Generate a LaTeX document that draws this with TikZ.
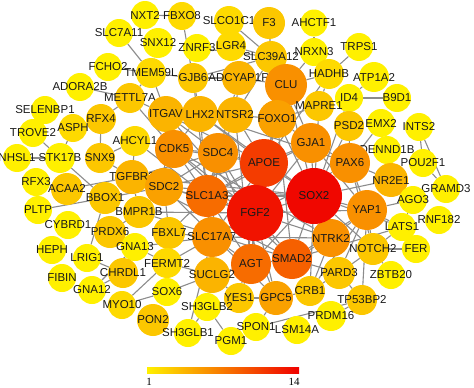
\documentclass[tikz,border=0pt]{standalone}
\usepackage{fontspec}
\setmainfont{Liberation Sans}
\newfontfamily\barfont{Liberation Serif}
\usetikzlibrary{backgrounds}

\definecolor{ylo}{HTML}{FFF000}
\definecolor{rhi}{HTML}{F00000}
\definecolor{linkgray}{HTML}{8C8C8C}
\colorlet{c1}{ylo}
\colorlet{c2}{rhi!9!ylo}
\colorlet{c3}{rhi!17!ylo}
\colorlet{c4}{rhi!25!ylo}
\colorlet{c5}{rhi!33!ylo}
\colorlet{c6}{rhi!40!ylo}
\colorlet{c8}{rhi!55!ylo}
\colorlet{c9}{rhi!60!ylo}
\colorlet{c11}{rhi!75!ylo}
\colorlet{c13}{rhi!92!ylo}
\colorlet{c14}{rhi!97!ylo}

% label text does not widen the circle
\newcommand{\glabel}[1]{\makebox[0pt]{#1}}

\tikzset{
  gene/.style={circle, inner sep=0pt, text=black!90, font=\fontsize{11.5}{11.5}\selectfont},
  ppi/.style={every edge/.style={draw=linkgray, line width=1.1pt}},
  barlabel/.style={inner sep=0pt, font=\barfont\fontsize{11}{11}\selectfont}
}

\begin{document}
\begin{tikzpicture}[x=1pt,y=-1pt]
  \useasboundingbox (0,0) rectangle (474,388);

  \node[gene, minimum size=28, fill=c1] (NXT2) at (145,15) {\glabel{NXT2}};
  \node[gene, minimum size=28, fill=c2] (FBXO8) at (182,16) {\glabel{FBXO8}};
  \node[gene, minimum size=30, fill=c2] (SLCO1C1) at (229,21) {\glabel{SLCO1C1}};
  \node[gene, minimum size=32, fill=c3] (F3) at (269,23) {\glabel{F3}};
  \node[gene, minimum size=27, fill=c1] (AHCTF1) at (314,23) {\glabel{AHCTF1}};
  \node[gene, minimum size=28, fill=c1] (SLC7A11) at (119,33) {\glabel{SLC7A11}};
  \node[gene, minimum size=30, fill=c1] (SNX12) at (158,43) {\glabel{SNX12}};
  \node[gene, minimum size=28, fill=c1] (ZNRF3) at (197,48) {\glabel{ZNRF3}};
  \node[gene, minimum size=30, fill=c2] (LGR4) at (231,46) {\glabel{LGR4}};
  \node[gene, minimum size=32, fill=c3] (SLC39A12) at (271,57) {\glabel{SLC39A12}};
  \node[gene, minimum size=28, fill=c1] (NRXN3) at (314,52) {\glabel{NRXN3}};
  \node[gene, minimum size=28, fill=c1] (TRPS1) at (359,47) {\glabel{TRPS1}};
  \node[gene, minimum size=28, fill=c1] (FCHO2) at (108,67) {\glabel{FCHO2}};
  \node[gene, minimum size=30, fill=c2] (TMEM59L) at (151,73) {\glabel{TMEM59L}};
  \node[gene, minimum size=30, fill=c3] (GJB6) at (193,78) {\glabel{GJB6}};
  \node[gene, minimum size=34, fill=c4] (ADCYAP1R) at (239,78) {\glabel{ADCYAP1R}};
  \node[gene, minimum size=42, fill=c6] (CLU) at (286,85) {\glabel{CLU}};
  \node[gene, minimum size=30, fill=c2] (HADHB) at (329,74) {\glabel{HADHB}};
  \node[gene, minimum size=30, fill=c1] (ATP1A2) at (374,77) {\glabel{ATP1A2}};
  \node[gene, minimum size=28, fill=c1] (ADORA2B) at (80,87) {\glabel{ADORA2B}};
  \node[gene, minimum size=30, fill=c3] (METTL7A) at (130,98) {\glabel{METTL7A}};
  \node[gene, minimum size=28, fill=c1] (ID4) at (349,98) {\glabel{ID4}};
  \node[gene, minimum size=28, fill=c1] (B9D1) at (397,98) {\glabel{B9D1}};
  \node[gene, minimum size=30, fill=c3] (MAPRE1) at (319,106) {\glabel{MAPRE1}};
  \node[gene, minimum size=28, fill=c1] (SELENBP1) at (45,110) {\glabel{SELENBP1}};
  \node[gene, minimum size=30, fill=c3] (RFX4) at (101,119) {\glabel{RFX4}};
  \node[gene, minimum size=36, fill=c4] (ITGAV) at (166,114) {\glabel{ITGAV}};
  \node[gene, minimum size=36, fill=c4] (LHX2) at (200,114) {\glabel{LHX2}};
  \node[gene, minimum size=36, fill=c4] (NTSR2) at (235,115) {\glabel{NTSR2}};
  \node[gene, minimum size=38, fill=c5] (FOXO1) at (277,119) {\glabel{FOXO1}};
  \node[gene, minimum size=30, fill=c3] (PSD2) at (349,126) {\glabel{PSD2}};
  \node[gene, minimum size=28, fill=c1] (EMX2) at (381,123) {\glabel{EMX2}};
  \node[gene, minimum size=28, fill=c1] (INTS2) at (419,127) {\glabel{INTS2}};
  \node[gene, minimum size=28, fill=c1] (TROVE2) at (33,133) {\glabel{TROVE2}};
  \node[gene, minimum size=28, fill=c2] (ASPH) at (73,128) {\glabel{ASPH}};
  \node[gene, minimum size=30, fill=c2] (AHCYL1) at (135,141) {\glabel{AHCYL1}};
  \node[gene, minimum size=38, fill=c6] (CDK5) at (174,149) {\glabel{CDK5}};
  \node[gene, minimum size=40, fill=c6] (SDC4) at (218,153) {\glabel{SDC4}};
  \node[gene, minimum size=40, fill=c6] (GJA1) at (311,143) {\glabel{GJA1}};
  \node[gene, minimum size=48, fill=c11] (APOE) at (264,163) {\glabel{APOE}};
  \node[gene, minimum size=28, fill=c1] (DENND1B) at (387,150) {\glabel{DENND1B}};
  \node[gene, minimum size=28, fill=c1] (NHSL1) at (17,158) {\glabel{NHSL1}};
  \node[gene, minimum size=30, fill=c1] (STK17B) at (60,158) {\glabel{STK17B}};
  \node[gene, minimum size=30, fill=c3] (SNX9) at (100,158) {\glabel{SNX9}};
  \node[gene, minimum size=40, fill=c6] (PAX6) at (350,163) {\glabel{PAX6}};
  \node[gene, minimum size=28, fill=c1] (POU2F1) at (423,163) {\glabel{POU2F1}};
  \node[gene, minimum size=34, fill=c4] (TGFBR3) at (132,177) {\glabel{TGFBR3}};
  \node[gene, minimum size=28, fill=c1] (RFX3) at (36,182) {\glabel{RFX3}};
  \node[gene, minimum size=34, fill=c4] (NR2E1) at (391,180) {\glabel{NR2E1}};
  \node[gene, minimum size=32, fill=c3] (ACAA2) at (67,189) {\glabel{ACAA2}};
  \node[gene, minimum size=38, fill=c5] (SDC2) at (164,187) {\glabel{SDC2}};
  \node[gene, minimum size=42, fill=c8] (SLC1A3) at (207,196) {\glabel{SLC1A3}};
  \node[gene, minimum size=28, fill=c1] (GRAMD3) at (446,189) {\glabel{GRAMD3}};
  \node[gene, minimum size=32, fill=c3] (BBOX1) at (105,198) {\glabel{BBOX1}};
  \node[gene, minimum size=28, fill=c1] (AGO3) at (413,200) {\glabel{AGO3}};
  \node[gene, minimum size=28, fill=c1] (PLTP) at (38,210) {\glabel{PLTP}};
  \node[gene, minimum size=40, fill=c6] (YAP1) at (367,210) {\glabel{YAP1}};
  \node[gene, minimum size=32, fill=c3] (BMPR1B) at (139,212) {\glabel{BMPR1B}};
  \node[gene, minimum size=28, fill=c1] (RNF182) at (439,220) {\glabel{RNF182}};
  \node[gene, minimum size=28, fill=c1] (CYBRD1) at (68,225) {\glabel{CYBRD1}};
  \node[gene, minimum size=32, fill=c3] (PRDX6) at (110,232) {\glabel{PRDX6}};
  \node[gene, minimum size=32, fill=c3] (FBXL7) at (169,233) {\glabel{FBXL7}};
  \node[gene, minimum size=40, fill=c6] (SLC17A7) at (212,237) {\glabel{SLC17A7}};
  \node[gene, minimum size=38, fill=c6] (NTRK2) at (331,238) {\glabel{NTRK2}};
  \node[gene, minimum size=28, fill=c1] (LATS1) at (402,227) {\glabel{LATS1}};
  \node[gene, minimum size=56, fill=c14] (SOX2) at (314,196) {\glabel{SOX2}};
  \node[gene, minimum size=56, fill=c13] (FGF2) at (255,213) {\glabel{FGF2}};
  \node[gene, minimum size=28, fill=c1] (GNA13) at (135,247) {\glabel{GNA13}};
  \node[gene, minimum size=28, fill=c1] (HEPH) at (52,250) {\glabel{HEPH}};
  \node[gene, minimum size=32, fill=c3] (NOTCH2) at (373,249) {\glabel{NOTCH2}};
  \node[gene, minimum size=28, fill=c1] (FER) at (416,249) {\glabel{FER}};
  \node[gene, minimum size=28, fill=c1] (LRIG1) at (87,258) {\glabel{LRIG1}};
  \node[gene, minimum size=30, fill=c2] (FERMT2) at (167,263) {\glabel{FERMT2}};
  \node[gene, minimum size=40, fill=c8] (AGT) at (251,264) {\glabel{AGT}};
  \node[gene, minimum size=40, fill=c9] (SMAD2) at (292,259) {\glabel{SMAD2}};
  \node[gene, minimum size=30, fill=c3] (CHRDL1) at (123,273) {\glabel{CHRDL1}};
  \node[gene, minimum size=36, fill=c4] (SUCLG2) at (212,275) {\glabel{SUCLG2}};
  \node[gene, minimum size=32, fill=c3] (PARD3) at (339,273) {\glabel{PARD3}};
  \node[gene, minimum size=28, fill=c1] (ZBTB20) at (391,275) {\glabel{ZBTB20}};
  \node[gene, minimum size=28, fill=c1] (FIBIN) at (62,278) {\glabel{FIBIN}};
  \node[gene, minimum size=28, fill=c1] (GNA12) at (92,290) {\glabel{GNA12}};
  \node[gene, minimum size=28, fill=c1] (SOX6) at (167,292) {\glabel{SOX6}};
  \node[gene, minimum size=30, fill=c3] (CRB1) at (310,291) {\glabel{CRB1}};
  \node[gene, minimum size=30, fill=c3] (YES1) at (239,298) {\glabel{YES1}};
  \node[gene, minimum size=34, fill=c5] (GPC5) at (276,298) {\glabel{GPC5}};
  \node[gene, minimum size=30, fill=c3] (TP53BP2) at (362,300) {\glabel{TP53BP2}};
  \node[gene, minimum size=28, fill=c2] (MYO10) at (122,305) {\glabel{MYO10}};
  \node[gene, minimum size=28, fill=c1] (SH3GLB2) at (207,307) {\glabel{SH3GLB2}};
  \node[gene, minimum size=32, fill=c3] (PON2) at (153,320) {\glabel{PON2}};
  \node[gene, minimum size=30, fill=c1] (PRDM16) at (331,316) {\glabel{PRDM16}};
  \node[gene, minimum size=28, fill=c1] (SPON1) at (256,327) {\glabel{SPON1}};
  \node[gene, minimum size=28, fill=c1] (LSM14A) at (297,330) {\glabel{LSM14A}};
  \node[gene, minimum size=28, fill=c1] (SH3GLB1) at (188,333) {\glabel{SH3GLB1}};
  \node[gene, minimum size=28, fill=c1] (PGM1) at (231,341) {\glabel{PGM1}};

  % interactions
  \begin{scope}[on background layer, ppi]
  \path (FGF2) edge (SOX2) edge (APOE) edge (SLC1A3) edge (AGT) edge (SMAD2) edge (SDC4) edge (SDC2) edge (CDK5) edge (GJA1) edge (NTRK2) edge (YAP1) edge (PAX6) edge (FOXO1) edge (SLC17A7) edge (TGFBR3) edge (BMPR1B) edge (ITGAV) edge (GPC5) edge (YES1) edge (FERMT2);
  \path (SOX2) edge (APOE) edge (PAX6) edge (YAP1) edge (NTRK2) edge (SMAD2) edge (NR2E1) edge (GJA1) edge (FOXO1) edge (LHX2) edge (NOTCH2) edge (SLC1A3) edge (AGT) edge (SDC2) edge (CLU) edge (TGFBR3) edge (LATS1) edge (PARD3) edge (CRB1) edge (MAPRE1) edge (ID4) edge (PSD2);
  \path (APOE) edge (CLU) edge (SLC1A3) edge (AGT) edge (SDC4) edge (SDC2) edge (CDK5) edge (NTSR2) edge (FOXO1) edge (GJA1) edge (SLC17A7) edge (ITGAV) edge (LHX2) edge (HADHB);
  \path (SLC1A3) edge (SLC17A7) edge (GJA1) edge (CDK5) edge (SDC4) edge (AGT) edge (LHX2) edge (NTSR2) edge (SUCLG2) edge (GJB6) edge (ADCYAP1R) edge (AHCYL1) edge (FBXL7);
  \path (SMAD2) edge (AGT) edge (YAP1) edge (NTRK2) edge (TGFBR3) edge (BMPR1B) edge (FOXO1) edge (CDK5) edge (PARD3) edge (LATS1);
  \path (AGT) edge (SLC17A7) edge (SUCLG2) edge (NTSR2) edge (YES1);
  \path (CDK5) edge (SDC4) edge (ITGAV) edge (NTRK2) edge (SDC2) edge (LHX2) edge (METTL7A);
  \path (SDC4) edge (SDC2) edge (ITGAV) edge (GPC5) edge (TGFBR3) edge (SLC17A7);
  \path (SDC2) edge (TGFBR3) edge (ITGAV) edge (GPC5) edge (BMPR1B) edge (FBXL7) edge (BBOX1);
  \path (GJA1) edge (PAX6) edge (FOXO1) edge (CLU) edge (YAP1);
  \path (PAX6) edge (NR2E1) edge (YAP1) edge (LHX2) edge (NOTCH2) edge (EMX2) edge (PSD2);
  \path (YAP1) edge (LATS1) edge (NOTCH2) edge (NTRK2) edge (AGO3) edge (TP53BP2) edge (CRB1) edge (PARD3);
  \path (NTRK2) edge (SLC17A7) edge (CRB1);
  \path (FOXO1) edge (CLU) edge (MAPRE1) edge (SLC39A12) edge (NTSR2);
  \path (CLU) edge (SLC39A12) edge (NRXN3) edge (HADHB) edge (ADCYAP1R);
  \path (LHX2) edge (ITGAV) edge (GJB6) edge (NTSR2);
  \path (NTSR2) edge (ADCYAP1R) edge (SLC39A12);
  \path (ITGAV) edge (TMEM59L) edge (METTL7A);
  \path (TGFBR3) edge (ACAA2) edge (BMPR1B) edge (SNX9) edge (AHCYL1);
  \path (SLC17A7) edge (SUCLG2) edge (FBXL7) edge (GNA13) edge (SH3GLB1);
  \path (SUCLG2) edge (FERMT2) edge (YES1) edge (SOX6) edge (SH3GLB2);
  \path (GPC5) edge (YES1) edge (CRB1) edge (SPON1);
  \path (PARD3) edge (CRB1) edge (TP53BP2) edge (NOTCH2);
  \path (NOTCH2) edge (FER) edge (LATS1) edge (ZBTB20);
  \path (FERMT2) edge (MYO10) edge (GNA13) edge (SOX6);
  \path (GNA13) edge (GNA12) edge (CHRDL1);
  \path (TP53BP2) edge (SPON1) edge (PRDM16);
  \path (SH3GLB1) edge (SH3GLB2);
  \path (SH3GLB2) edge (PGM1);
  \path (NXT2) edge (FBXO8);
  \path (FBXO8) edge (GJB6);
  \path (SLC39A12) edge (SLCO1C1) edge (LGR4) edge (F3) edge (GJB6) edge (ZNRF3);
  \path (NRXN3) edge (AHCTF1);
  \path (HADHB) edge (TRPS1) edge (MAPRE1);
  \path (ID4) edge (ATP1A2) edge (B9D1) edge (PSD2);
  \path (INTS2) edge (POU2F1) edge (GRAMD3);
  \path (POU2F1) edge (GRAMD3);
  \path (NR2E1) edge (DENND1B);
  \path (AGO3) edge (LATS1);
  \path (TMEM59L) edge (SLC7A11) edge (SNX12) edge (FCHO2) edge (METTL7A) edge (GJB6);
  \path (METTL7A) edge (ADORA2B) edge (RFX4);
  \path (GJB6) edge (ADCYAP1R);
  \path (STK17B) edge (TROVE2) edge (ASPH) edge (NHSL1) edge (BBOX1);
  \path (ACAA2) edge (RFX3);
  \path (BBOX1) edge (PLTP) edge (LRIG1);
  \path (PRDX6) edge (BMPR1B);
  \path (CHRDL1) edge (LRIG1) edge (GNA12);
  \path (SOX6) edge (MYO10);
  \path (SNX9) edge (AHCYL1) edge (RFX4);
  \end{scope}

  % colour scale
  \shade[left color=ylo, right color=rhi, middle color=rhi!50!ylo] (147,367) rectangle (299,373);
  \node[barlabel] (lo) at (149,382) {1};
  \node[barlabel] (hi) at (294,382) {14};

\end{tikzpicture}
\end{document}
